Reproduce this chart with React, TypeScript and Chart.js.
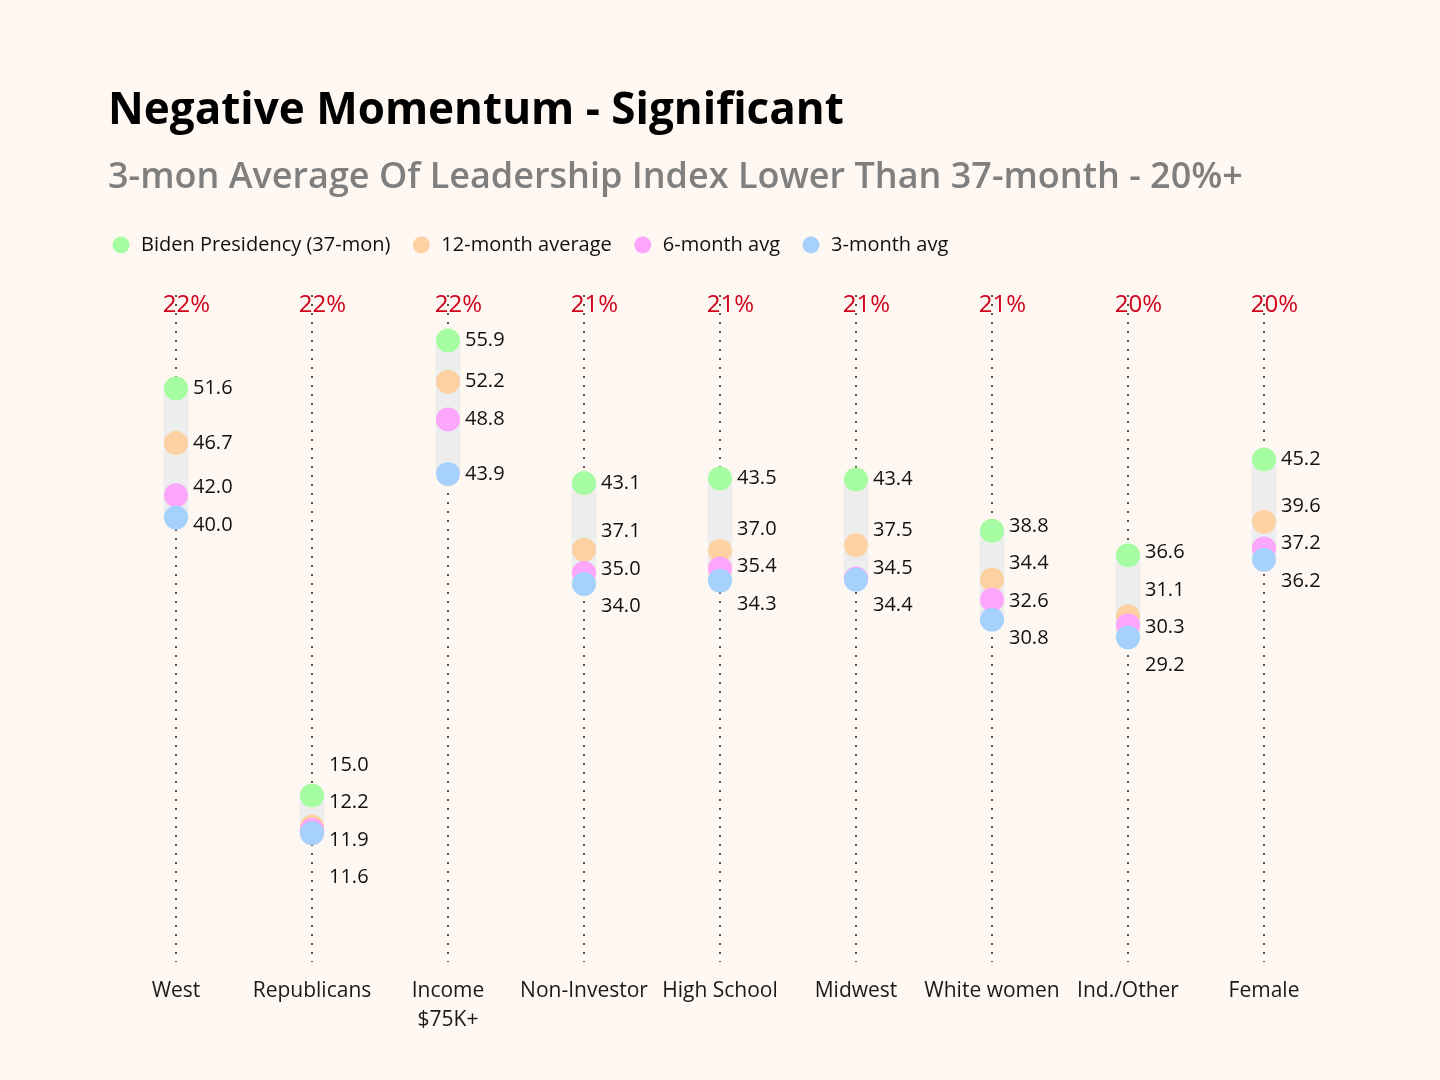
import React, { useEffect, useRef } from "react";
import { Chart, registerables } from "chart.js";

Chart.register(...registerables);

const categories: (string | string[])[] = [
  "West",
  "Republicans",
  ["Income", "$75K+"],
  "Non-Investor",
  "High School",
  "Midwest",
  "White women",
  "Ind./Other",
  "Female",
];

const biden37 = [51.6, 15.0, 55.9, 43.1, 43.5, 43.4, 38.8, 36.6, 45.2];
const avg12 = [46.7, 12.2, 52.2, 37.1, 37.0, 37.5, 34.4, 31.1, 39.6];
const avg6 = [42.0, 11.9, 48.8, 35.0, 35.4, 34.5, 32.6, 30.3, 37.2];
const avg3 = [40.0, 11.6, 43.9, 34.0, 34.3, 34.4, 30.8, 29.2, 36.2];
const pctLabels = ["22%", "22%", "22%", "21%", "21%", "21%", "21%", "20%", "20%"];

const seriesNames = ["Biden Presidency (37-mon)", "12-month average", "6-month avg", "3-month avg"];
const seriesColors = ["#a5fca1", "#fdd1a2", "#fba6fb", "#a6d1fd"];

const TITLE = "Negative Momentum - Significant";
const SUBTITLE = "3-mon Average Of Leadership Index Lower Than 37-month - 20%+";

const FONT = '"Open Sans", "Noto Sans", sans-serif';
const BG = "#fef7f2";

export default function App() {
  const ref = useRef<HTMLCanvasElement | null>(null);

  useEffect(() => {
    document.body.style.margin = "0";
    document.body.style.background = BG;
    const canvas = ref.current;
    if (!canvas) return;
    Chart.defaults.font.family = FONT;

    const series = [biden37, avg12, avg6, avg3];

    const titlePlugin = {
      id: "titles",
      beforeDraw(chart: any) {
        const ctx = chart.ctx;
        ctx.save();
        ctx.textAlign = "left";
        ctx.textBaseline = "alphabetic";
        ctx.fillStyle = "#000000";
        ctx.font = `bold 44px ${FONT}`;
        ctx.fillText(TITLE, 108, 124);
        ctx.fillStyle = "#7f7f7f";
        ctx.font = `600 36px ${FONT}`;
        ctx.fillText(SUBTITLE, 108, 188);
        // percentage labels
        const xs = chart.scales.x;
        ctx.fillStyle = "#d0021b";
        ctx.font = `24px ${FONT}`;
        ctx.textAlign = "center";
        ctx.textBaseline = "middle";
        pctLabels.forEach((t, i) => {
          ctx.fillText(t, xs.getPixelForValue(i) + 10.5, chart.chartArea.top + 10);
        });
        ctx.restore();
      },
    };

    const valueLabelPlugin = {
      id: "valueLabels",
      afterDatasetsDraw(chart: any) {
        const ctx = chart.ctx;
        const xs = chart.scales.x;
        const ys = chart.scales.y;
        const gap = 37.5;
        ctx.save();
        ctx.font = `20px ${FONT}`;
        ctx.fillStyle = "#111111";
        ctx.textAlign = "left";
        ctx.textBaseline = "middle";
        categories.forEach((_c, i) => {
          const items = series
            .map((s) => ({ v: s[i], y: ys.getPixelForValue(s[i]) }))
            .sort((a, b) => a.y - b.y);
          let groups = items.map((it) => ({ members: [it], center: it.y }));
          const pos = (g: any, k: number) => g.center + (k - (g.members.length - 1) / 2) * gap;
          let changed = true;
          while (changed) {
            changed = false;
            for (let g = 0; g < groups.length - 1; g++) {
              const a = groups[g];
              const b = groups[g + 1];
              const aBottom = pos(a, a.members.length - 1);
              const bTop = pos(b, 0);
              if (bTop - aBottom < gap - 0.01) {
                const members = a.members.concat(b.members);
                const center = members.reduce((s, m) => s + m.y, 0) / members.length;
                groups.splice(g, 2, { members, center });
                changed = true;
                break;
              }
            }
          }
          const x = xs.getPixelForValue(i) + 17;
          groups.forEach((g) => {
            g.members.forEach((m, k) => {
              ctx.fillText(m.v.toFixed(1), x, pos(g, k));
            });
          });
        });
        ctx.restore();
      },
    };

    const rangeData = categories.map((_c, i) => {
      const vals = series.map((s) => s[i]);
      return [Math.min(...vals), Math.max(...vals)];
    });

    const chart = new Chart(canvas, {
      type: "bar",
      data: {
        labels: categories,
        datasets: [
          {
            type: "bar",
            label: "range",
            data: rangeData as any,
            backgroundColor: "#ededed",
            barThickness: 24,
            borderWidth: 0,
            order: 10,
          } as any,
          ...series.map((s, k) => ({
            type: "line",
            label: seriesNames[k],
            data: s,
            showLine: false,
            backgroundColor: seriesColors[k],
            borderColor: seriesColors[k],
            pointBackgroundColor: seriesColors[k],
            pointBorderWidth: 0,
            pointRadius: 12,
            pointHoverRadius: 12,
            pointStyle: "circle",
            order: 4 - k,
          })) as any,
        ],
      },
      options: {
        responsive: false,
        animation: false,
        layout: { padding: { top: 214, left: 90, right: 108, bottom: 31 } },
        plugins: {
          legend: {
            display: true,
            position: "top",
            align: "start",
            labels: {
              usePointStyle: true,
              pointStyle: "circle",
              boxHeight: 12,
              padding: 21,
              color: "#111111",
              font: { size: 20, family: FONT },
              filter: (item: any) => item.datasetIndex !== 0,
              sort: (a: any, b: any) => a.datasetIndex - b.datasetIndex,
            },
          },
          tooltip: { enabled: false },
          title: { display: false },
        },
        scales: {
          x: {
            type: "category",
            offset: true,
            grid: {
              display: true,
              offset: false,
              drawTicks: false,
              color: "#555555",
              lineWidth: 2,
            },
            border: { display: false, dash: [2, 7] },
            ticks: {
              color: "#1a1a1a",
              font: { size: 21, family: FONT, lineHeight: 1.4 },
              padding: 14,
              maxRotation: 0,
              autoSkip: false,
            },
          },
          x2: {
            type: "category",
            position: "top",
            labels: categories as any,
            offset: true,
            grid: { display: false, drawTicks: false },
            border: { display: false },
            ticks: { display: false },
            afterFit: (s: any) => {
              s.height = 30;
            },
          },
          y: {
            min: 0,
            max: 60,
            display: true,
            grid: { display: false, drawTicks: false },
            border: { display: false },
            ticks: { display: false },
            afterFit: (s: any) => {
              s.width = 18;
            },
          },
        } as any,
      },
      plugins: [titlePlugin, valueLabelPlugin],
    });

    return () => chart.destroy();
  }, []);

  return (
    <div style={{ position: "absolute", left: 0, top: 0, width: 1440, height: 1080, background: BG }}>
      <canvas ref={ref} width={1440} height={1080} style={{ width: 1440, height: 1080, display: "block" }} />
    </div>
  );
}
